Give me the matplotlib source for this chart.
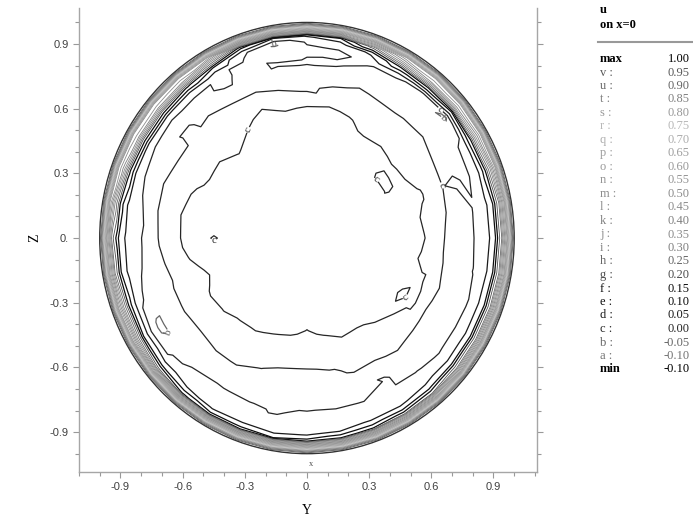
# u velocity contours on the x=0 cross-section of the pipe

import numpy as np
import matplotlib.pyplot as plt
import matplotlib.tri as mtri
from matplotlib.patches import Circle
from matplotlib.ticker import FixedLocator, MultipleLocator

plt.rcParams['font.family'] = ['Liberation Serif', 'DejaVu Serif']

# sampling angles in degrees, measured from +Y towards +Z
angles = np.arange(0, 360, 10)

# u sampled on rings of constant radius (one value per angle)
u_centre = -0.03
u_r30 = [-0.03, -0.03, -0.025, -0.03, -0.02, -0.03, -0.03, -0.035, -0.03, -0.03, -0.03, -0.035,
         -0.03, -0.03, -0.03, -0.035, -0.03, -0.03, -0.03, -0.03, -0.025, -0.03, -0.03, -0.025,
         -0.025, -0.02, -0.02, -0.015, -0.02, -0.025, -0.025, -0.03, -0.03, -0.03, -0.03, -0.03]
u_r45 = [-0.02, -0.02, -0.02, 0.004, 0.004, -0.015, -0.02, -0.02, -0.025, -0.02, -0.02, -0.025,
         -0.02, -0.012, -0.02, -0.02, -0.02, -0.025, 0.004, -0.02, -0.01, -0.015, -0.012, -0.01,
         -0.01, -0.006, -0.002, 0.003, -0.002, -0.01, -0.008, -0.012, -0.015, -0.015, -0.02, -0.015]
u_r52 = [-0.01, -0.008, -0.012, -0.006, -0.004, -0.008, -0.006, -0.012, -0.018, -0.015, -0.012, -0.02,
         -0.008, 0.002, -0.006, -0.005, -0.012, -0.018, -0.016, -0.008, 0.004, -0.004, -0.001, 0.004,
         0.005, 0.012, 0.016, 0.02, 0.016, 0.008, 0.01, 0.002, -0.005, 0.004, -0.01, -0.004]
u_r58 = [0.002, 0.006, -0.004, 0.008, 0.015, 0.006, 0.008, -0.004, -0.01, -0.008, -0.004, -0.012,
         0.001, 0.012, 0.006, 0.008, -0.004, -0.01, -0.008, 0.001, 0.014, 0.01, 0.01, 0.014,
         0.016, 0.02, 0.012, 0.01, 0.014, 0.018, 0.016, 0.014, 0.006, -0.004, -0.004, 0.006]
u_r64 = [0.008, 0.014, 0.012, 0.016, 0.02, 0.018, 0.018, 0.01, 0.006, 0.008, 0.01, 0.001,
         0.012, 0.02, 0.018, 0.018, 0.012, 0.006, 0.008, 0.012, 0.016, 0.014, 0.01, 0.014,
         0.012, 0.001, -0.01, -0.012, -0.006, 0.006, 0.004, 0.012, 0.008, 0.006, 0.012, 0.008]
u_r70 = [-0.012, -0.006, -0.001, 0.001, 0.01, 0.008, 0.008, 0.012, 0.004, -0.004, -0.001, 0.006,
         0.006, 0.012, 0.006, 0.006, 0.012, 0.01, 0.006, -0.001, -0.006, -0.006, -0.01, -0.006,
         -0.006, -0.014, -0.02, -0.02, -0.016, -0.01, -0.012, -0.006, -0.01, -0.01, -0.006, -0.01]
u_r76 = [-0.02, -0.018, 0.006, -0.02, -0.01, -0.012, -0.014, -0.006, -0.016, -0.018, -0.016, -0.012,
         -0.012, -0.006, 0.004, -0.014, -0.008, -0.01, -0.014, -0.016, -0.02, -0.025, -0.022, -0.02,
         -0.022, -0.026, -0.03, -0.03, -0.028, -0.026, 0.004, -0.02, -0.022, -0.02, -0.018, -0.02]
u_r82 = [0.006, 0.004, -0.008, -0.012, -0.02, -0.04, -0.03, -0.012, 0.004, 0.006, 0.004, -0.01,
         0.006, -0.012, -0.016, -0.012, -0.006, 0.004, 0.008, 0.004, -0.012, -0.065, -0.01, 0.004,
         0.008, 0.006, -0.004, 0.012, 0.01, 0.008, 0.006, 0.002, -0.006, -0.004, -0.008, 0.002]
u_r87 = [0.03, 0.03, 0.02, 0.015, -0.055, -0.02, 0.01, 0.008, -0.006, -0.01, -0.03, -0.008,
         0.006, 0.01, 0.01, 0.012, 0.02, 0.03, 0.035, 0.03, 0.02, 0.004, 0.01, 0.015,
         0.012, 0.01, 0.015, 0.02, 0.015, 0.02, 0.02, 0.025, 0.02, 0.025, 0.03, 0.03]
u_r91 = [0.1, 0.1, 0.12, 0.14, 0.1, 0.15, 0.14, 0.06, 0.01, 0.005, -0.055, 0.01,
         0.1, 0.16, 0.18, 0.18, 0.16, 0.12, 0.1, 0.1, 0.12, 0.1, 0.08, 0.06,
         0.04, 0.05, 0.03, 0.04, 0.05, 0.06, 0.06, 0.08, 0.1, 0.1, 0.1, 0.1]
u_r94 = [0.25, 0.25, 0.3, 0.35, 0.38, 0.4, 0.35, 0.22, 0.1, 0.06, 0.05, 0.12,
         0.3, 0.4, 0.42, 0.42, 0.38, 0.3, 0.22, 0.25, 0.3, 0.28, 0.22, 0.16,
         0.12, 0.12, 0.1, 0.12, 0.14, 0.16, 0.18, 0.2, 0.24, 0.25, 0.25, 0.25]
ring_radii = [0.30, 0.45, 0.52, 0.58, 0.64, 0.70, 0.76, 0.82, 0.87, 0.91, 0.94]
ring_values = [u_r30, u_r45, u_r52, u_r58, u_r64, u_r70, u_r76, u_r82, u_r87, u_r91, u_r94]

# wall layer, same all the way round
r_wall = [0.965, 0.98, 0.99, 1.0]
u_wall = [0.50, 0.72, 0.87, 1.00]

levels = [-0.10, -0.05, 0.00, 0.05, 0.10, 0.15, 0.20, 0.25, 0.30, 0.35, 0.40,
          0.45, 0.50, 0.55, 0.60, 0.65, 0.70, 0.75, 0.80, 0.85, 0.90, 0.95]
letters = list('abcdefghijklmnopqrstuv')
grays = [0.45, 0.4, 0.15, 0.1, 0.05, 0.05, 0.3, 0.4, 0.5, 0.55, 0.5,
         0.55, 0.55, 0.58, 0.6, 0.62, 0.68, 0.72, 0.6, 0.5, 0.4, 0.35]
u_max, u_min = 1.00, -0.10

tick_vals = [-0.9, -0.6, -0.3, 0.0, 0.3, 0.6, 0.9]
tick_labels = ['-0.9', '-0.6', '-0.3', '0.', '0.3', '0.6', '0.9']

# scatter the ring samples into the Y-Z plane
th = np.deg2rad(angles)
py_, pz_, pu_ = [0.0], [0.0], [u_centre]
for r, vals in zip(ring_radii, ring_values):
    py_ += list(r * np.cos(th))
    pz_ += list(r * np.sin(th))
    pu_ += list(vals)
for r, v in zip(r_wall, u_wall):
    py_ += list(r * np.cos(th))
    pz_ += list(r * np.sin(th))
    pu_ += [v] * len(angles)
tri = mtri.Triangulation(py_, pz_)

fig = plt.figure(figsize=(6.93, 5.22), dpi=100)
ax = fig.add_axes([79 / 693, 50 / 522, 458 / 693, 464 / 522])

widths = [0.9] * 6 + [0.6] * 16
cs = ax.tricontour(tri, pu_, levels=levels, colors=[str(g) for g in grays], linewidths=widths)
fmt = {lv: letters[i] for i, lv in enumerate(cs.levels)}
ax.clabel(cs, levels=cs.levels[:3], fmt=fmt, fontsize=8, inline=True, inline_spacing=1)
ax.add_patch(Circle((0, 0), r_wall[-1], fill=False, ec='0.2', lw=1.0))
ax.text(0.02, -1.05, 'x', fontsize=6, color='0.3', ha='center', va='center')

ax.set_xlim(-1.1, 1.11)
ax.set_ylim(-1.085, 1.067)
ax.xaxis.set_major_locator(FixedLocator(tick_vals))
ax.yaxis.set_major_locator(FixedLocator(tick_vals))
ax.xaxis.set_minor_locator(MultipleLocator(0.1))
ax.yaxis.set_minor_locator(MultipleLocator(0.1))
ax.set_xticklabels(tick_labels, fontfamily='Liberation Sans', fontsize=8, color='0.25')
ax.set_yticklabels(tick_labels, fontfamily='Liberation Sans', fontsize=8, color='0.25')
ax.tick_params(which='both', direction='out', color='0.6', width=0.8,
               left=True, right=True, bottom=True, top=False, labelright=False)
ax.tick_params(which='major', length=4)
ax.tick_params(which='minor', length=3)
ax.spines['top'].set_visible(False)
for s in ('left', 'right', 'bottom'):
    ax.spines[s].set_color('0.65')
    ax.spines[s].set_linewidth(1.0)

# axis titles
fig.text(307 / 693, 1 - 510 / 522, 'Y', fontsize=10, ha='center', va='center')
fig.text(35 / 693, 1 - 238 / 522, 'Z', fontsize=10, ha='center', va='center', rotation=90)

# level key on the right
fig.text(600 / 693, 1 - 10 / 522, 'u', fontsize=9, fontweight='bold', va='center')
fig.text(600 / 693, 1 - 25 / 522, 'on x=0', fontsize=9, fontweight='bold', va='center')
fig.add_artist(plt.Line2D([598 / 693, 1.0], [1 - 42 / 522] * 2, color='0.6', lw=1.5))

rows = [('max', u_max, '0.0', 'bold')]
for lv, ch, g in zip(levels[::-1], letters[::-1], grays[::-1]):
    rows.append((ch + ' :', lv, str(g), 'normal'))
rows.append(('min', u_min, '0.0', 'bold'))
for i, (name, val, col, w) in enumerate(rows):
    yy = 1 - (59 + 13.5 * i) / 522
    fig.text(600 / 693, yy, name, fontsize=9, color=col, fontweight=w, va='center')
    fig.text(690 / 693, yy, '%.2f' % val, fontsize=9, color=col, ha='right', va='center')

fig.savefig('out.png', dpi=100)
